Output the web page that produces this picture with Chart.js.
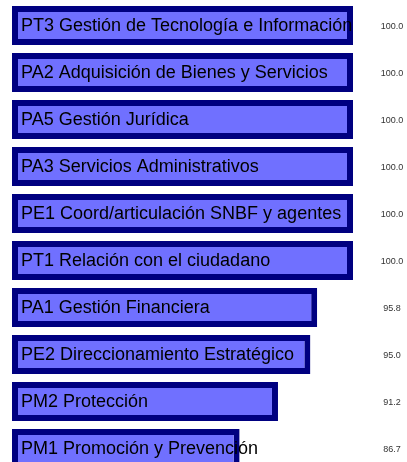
<!DOCTYPE html>
<html>
<head>
<meta charset="utf-8">
<script src="https://cdn.jsdelivr.net/npm/chart.js@4"></script>
<style>
  html, body { margin: 0; padding: 0; background: #fff; overflow: hidden; }
  canvas { display: block; }
</style>
</head>
<body>
<canvas id="chart" width="407" height="472"></canvas>
<script>
const procesos = [
  'PT3 Gestión de Tecnología e Información',
  'PA2 Adquisición de Bienes y Servicios',
  'PA5 Gestión Jurídica',
  'PA3 Servicios Administrativos',
  'PE1 Coord/articulación SNBF y agentes',
  'PT1 Relación con el ciudadano',
  'PA1 Gestión Financiera',
  'PE2 Direccionamiento Estratégico',
  'PM2 Protección',
  'PM1 Promoción y Prevención'
]
const cumplimiento = [100.0, 100.0, 100.0, 100.0, 100.0, 100.0, 95.8, 95.0, 91.2, 86.7]

// writes the process name inside each bar and the value on the right
const barLabels = {
  id: 'barLabels',
  afterDatasetsDraw(chart) {
    const ctx = chart.ctx
    const meta = chart.getDatasetMeta(0)
    ctx.save()
    ctx.textBaseline = 'middle'
    meta.data.forEach((bar, i) => {
      ctx.fillStyle = '#000'
      ctx.textAlign = 'left'
      ctx.font = '18px "Liberation Sans", Arial, sans-serif'
      ctx.fillText(procesos[i], chart.chartArea.left + 9, bar.y + 1)
      ctx.fillStyle = '#333'
      ctx.textAlign = 'center'
      ctx.font = '9px "Liberation Sans", Arial, sans-serif'
      ctx.fillText(cumplimiento[i].toFixed(1), 392, bar.y + 1)
    })
    ctx.restore()
  }
}

new Chart(document.getElementById('chart'), {
  type: 'bar',
  data: {
    labels: procesos,
    datasets: [{
      data: cumplimiento,
      base: 60,
      backgroundColor: '#7070ff',
      borderColor: '#000080',
      borderWidth: 6,
      borderSkipped: false,
      barPercentage: 0.83,
      categoryPercentage: 1
    }]
  },
  options: {
    indexAxis: 'y',
    responsive: false,
    animation: false,
    layout: { padding: { left: 12, right: 54, top: 2, bottom: 0 } },
    scales: {
      x: { display: false, min: 60, max: 100 },
      y: { display: false }
    },
    plugins: {
      legend: { display: false },
      tooltip: { enabled: false }
    }
  },
  plugins: [barLabels]
})
</script>
</body>
</html>
